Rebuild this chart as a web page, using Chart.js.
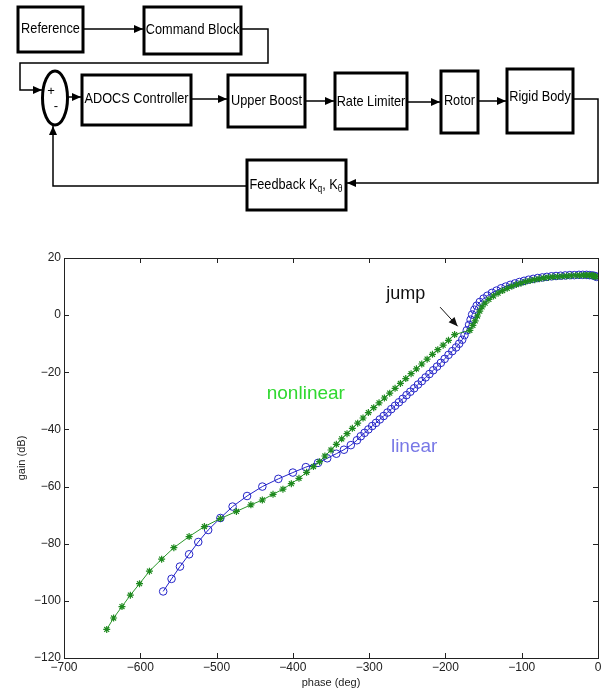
<!DOCTYPE html>
<html>
<head>
<meta charset="utf-8">
<script src="https://cdn.jsdelivr.net/npm/chart.js@4.4.0/dist/chart.umd.min.js"></script>
<style>
html, body { margin: 0; padding: 0; background: #fff; }
</style>
</head>
<body>
<canvas id="myChart" width="611" height="690"></canvas>
<script>
// nonlinear response (green, asterisks)
var nonlinearPhase = [-644, -635, -624, -613, -601, -588, -572, -556, -536, -516, -495, -474, -455, -440, -426, -413, -402, -392, -382, -373, -365, -358, -350, -343,
  -336, -329, -322, -315, -308, -301, -294, -287, -280, -273, -266, -259, -252, -245, -238, -231, -224, -217, -210, -203, -196, -188,
  -168, -164, -161, -158, -155, -152, -148, -143, -137, -131, -125, -119, -113, -107, -101, -95, -89, -83, -77, -71, -65, -59, -53, -47, -41, -35, -29, -24, -19, -15, -11, -8, -6, -4, -3];
var nonlinearGain = [-110, -106, -102, -98, -94, -89.6, -85.4, -81.4, -77.5, -74, -71.2, -68.7, -66.4, -64.7, -62.7, -60.9, -59, -57.1, -55, -53, -51.3, -49.3, -47.2, -45.2,
  -43.3, -41.5, -39.6, -37.8, -36.0, -34.1, -32.4, -30.7, -29.0, -27.3, -25.6, -23.9, -22.2, -20.5, -18.8, -17.1, -15.4, -13.7, -12.1, -10.5, -8.8, -6.8,
  -5.3, -3.6, -2.0, -0.3, 1.4, 2.9, 4.2, 5.5, 6.7, 7.7, 8.6, 9.4, 10.1, 10.7, 11.2, 11.7, 12.1, 12.4, 12.7, 13.0, 13.2, 13.4, 13.5, 13.6, 13.7, 13.8, 13.9, 13.9, 14.0, 14.0, 14.0, 13.9, 13.8, 13.6, 13.4];

// linear response (blue, circles)
var linearPhase = [-570, -559, -548, -536, -524, -511, -495, -479, -460, -440, -419, -400, -383, -367, -355, -343, -333, -324, -316,
  -311, -306, -301, -296, -291, -286, -281, -276, -271, -266, -261, -256, -251, -246, -241, -236, -231, -226, -221, -216, -211, -206, -201, -196, -191, -186, -182,
  -178, -175, -172, -169, -167, -165, -162, -159, -155, -150, -145, -139, -133, -127, -121, -115, -109, -103, -97, -91, -85, -79, -73, -67, -61, -55, -49, -43, -37, -31, -25, -20, -15, -11, -7, -4, -2];
var linearGain = [-96.7, -92.3, -88, -83.7, -79.4, -75.2, -71, -67, -63.3, -60, -57.3, -55.1, -53.2, -51.7, -50.1, -48.5, -47.1, -45.5, -43.8,
  -42.4, -41.2, -40.0, -38.8, -37.7, -36.5, -35.3, -34.1, -32.9, -31.7, -30.5, -29.3, -28.0, -26.8, -25.6, -24.3, -23.1, -21.8, -20.6, -19.3, -18.0, -16.7, -15.3, -13.9, -12.6, -11.3, -10.0,
  -8.6, -7.0, -5.3, -3.4, -1.6, 0.2, 1.9, 3.3, 4.6, 5.8, 6.8, 7.8, 8.6, 9.4, 10.0, 10.6, 11.1, 11.6, 12.0, 12.4, 12.7, 13.0, 13.2, 13.4, 13.6, 13.7, 13.8, 13.9, 14.0, 14.0, 14.1, 14.1, 14.1, 14.0, 13.9, 13.7, 13.4];

var phaseTicks = [-700, -600, -500, -400, -300, -200, -100, 0];
var gainTicks = [-120, -100, -80, -60, -40, -20, 0, 20];

function toPoints(xs, ys) {
  var out = [];
  for (var i = 0; i < xs.length; i++) out.push({ x: xs[i], y: ys[i] });
  return out;
}

function minusLabel(v) {
  return v < 0 ? '\u2212' + Math.abs(v) : String(v);
}

// --- block diagram helpers ---
function squeezedText(ctx, text, cx, cy) {
  ctx.save();
  ctx.translate(cx, cy);
  ctx.scale(0.85, 1);
  ctx.fillText(text, 0, 0);
  ctx.restore();
}

function block(ctx, x, y, w, h, text, ty) {
  ctx.lineWidth = 3;
  ctx.strokeRect(x, y, w, h);
  if (text) squeezedText(ctx, text, x + w / 2, ty || (y + h / 2));
}

function head(ctx, x, y, dir) {
  ctx.save();
  ctx.translate(x, y);
  ctx.rotate(dir);
  ctx.beginPath();
  ctx.moveTo(0, 0);
  ctx.lineTo(-9, -4);
  ctx.lineTo(-9, 4);
  ctx.closePath();
  ctx.fill();
  ctx.restore();
}

function wire(ctx, pts, arrowEnd) {
  ctx.lineWidth = 1.5;
  ctx.beginPath();
  ctx.moveTo(pts[0][0], pts[0][1]);
  for (var i = 1; i < pts.length; i++) ctx.lineTo(pts[i][0], pts[i][1]);
  ctx.stroke();
  if (arrowEnd) {
    var a = pts[pts.length - 2], b = pts[pts.length - 1];
    head(ctx, b[0], b[1], Math.atan2(b[1] - a[1], b[0] - a[0]));
  }
}

var diagramPlugin = {
  id: 'diagram',
  afterDraw: function(chart) {
    var ctx = chart.ctx;
    ctx.save();
    ctx.strokeStyle = '#000';
    ctx.fillStyle = '#000';
    ctx.font = '15px "Liberation Sans", Arial, sans-serif';
    ctx.textAlign = 'center';
    ctx.textBaseline = 'middle';

    block(ctx, 18, 7, 65, 45, 'Reference', 29);
    block(ctx, 144, 7, 97, 47, 'Command Block', 30);
    block(ctx, 82, 75, 109, 50, 'ADOCS Controller', 99);
    block(ctx, 228, 75, 77, 52, 'Upper Boost', 101);
    block(ctx, 335, 73, 72, 56, 'Rate Limiter', 102);
    block(ctx, 441, 71, 37, 62, 'Rotor', 101);
    block(ctx, 507, 69, 66, 64, 'Rigid Body', 97);
    block(ctx, 247, 160, 99, 50, null);

    // feedback label with subscripts
    var big = '15px "Liberation Sans", Arial, sans-serif';
    var small = '10px "Liberation Sans", Arial, sans-serif';
    ctx.save();
    ctx.translate(296, 185);
    ctx.scale(0.85, 1);
    ctx.textAlign = 'left';
    var parts = [['Feedback K', big, 0], ['q', small, 4], [', K', big, 0], ['\u03B8', small, 4]];
    var total = 0;
    parts.forEach(function(p) { ctx.font = p[1]; total += ctx.measureText(p[0]).width; });
    var px = -total / 2;
    parts.forEach(function(p) {
      ctx.font = p[1];
      ctx.fillText(p[0], px, p[2]);
      px += ctx.measureText(p[0]).width;
    });
    ctx.restore();

    // summing junction
    ctx.lineWidth = 3;
    ctx.beginPath();
    ctx.ellipse(55, 98, 12.5, 27, 0, 0, Math.PI * 2);
    ctx.stroke();
    ctx.font = '13px "Liberation Sans", Arial, sans-serif';
    ctx.fillText('+', 51, 91);
    ctx.fillText('-', 56, 106);

    wire(ctx, [[83, 29], [143, 29]], true);
    wire(ctx, [[241, 29], [268, 29], [268, 63], [20, 63], [20, 90], [42, 90]], true);
    wire(ctx, [[68, 97], [81, 97]], true);
    wire(ctx, [[191, 99], [227, 99]], true);
    wire(ctx, [[305, 101], [334, 101]], true);
    wire(ctx, [[407, 102], [440, 102]], true);
    wire(ctx, [[478, 101], [506, 101]], true);
    wire(ctx, [[573, 99], [598, 99], [598, 183], [347, 183]], true);
    wire(ctx, [[247, 186], [53, 186], [53, 126]], true);
    ctx.restore();
  }
};

// box, inward ticks and text annotations of the plot
var framePlugin = {
  id: 'frame',
  afterDatasetsDraw: function(chart) {
    var ctx = chart.ctx, a = chart.chartArea;
    var xs = chart.scales.x, ys = chart.scales.y;
    ctx.save();
    ctx.strokeStyle = '#222';
    ctx.lineWidth = 1;
    ctx.strokeRect(a.left + 0.5, a.top + 0.5, a.right - a.left, a.bottom - a.top);
    ctx.beginPath();
    phaseTicks.forEach(function(v) {
      var px = Math.round(xs.getPixelForValue(v)) + 0.5;
      ctx.moveTo(px, a.bottom); ctx.lineTo(px, a.bottom - 5);
      ctx.moveTo(px, a.top); ctx.lineTo(px, a.top + 5);
    });
    gainTicks.forEach(function(v) {
      var py = Math.round(ys.getPixelForValue(v)) + 0.5;
      ctx.moveTo(a.left, py); ctx.lineTo(a.left + 5, py);
      ctx.moveTo(a.right, py); ctx.lineTo(a.right - 5, py);
    });
    ctx.stroke();

    ctx.textAlign = 'center';
    ctx.textBaseline = 'middle';
    ctx.font = '19px "Liberation Sans", Arial, sans-serif';
    ctx.fillStyle = '#30d830';
    ctx.fillText('nonlinear', xs.getPixelForValue(-383), ys.getPixelForValue(-27.4));
    ctx.fillStyle = '#7878e6';
    ctx.fillText('linear', xs.getPixelForValue(-241), ys.getPixelForValue(-46));
    ctx.fillStyle = '#111';
    ctx.font = '18px "Liberation Sans", Arial, sans-serif';
    ctx.fillText('jump', xs.getPixelForValue(-252), ys.getPixelForValue(7.5));

    var x1 = xs.getPixelForValue(-207), y1 = ys.getPixelForValue(2.8);
    var x2 = xs.getPixelForValue(-184), y2 = ys.getPixelForValue(-3.9);
    ctx.strokeStyle = '#111';
    ctx.beginPath();
    ctx.moveTo(x1, y1); ctx.lineTo(x2, y2);
    ctx.stroke();
    ctx.fillStyle = '#111';
    head(ctx, x2, y2, Math.atan2(y2 - y1, x2 - x1));
    ctx.restore();
  }
};

var tickFont = { family: '"Liberation Sans", Arial, sans-serif', size: 12 };
var titleFont = { family: '"Liberation Sans", Arial, sans-serif', size: 11 };

var ctx = document.getElementById('myChart').getContext('2d');
var myChart = new Chart(ctx, {
  type: 'scatter',
  data: {
    datasets: [{
      label: 'nonlinear',
      data: toPoints(nonlinearPhase, nonlinearGain),
      showLine: true,
      borderColor: '#2a962a',
      borderWidth: 1,
      pointStyle: 'star',
      pointRadius: 3.5,
      pointBorderColor: '#1f8a1f',
      pointBorderWidth: 1.2,
      pointBackgroundColor: '#1f8a1f',
      order: 0
    }, {
      label: 'linear',
      data: toPoints(linearPhase, linearGain),
      showLine: true,
      borderColor: '#2424c8',
      borderWidth: 1,
      pointStyle: 'circle',
      pointRadius: 3.8,
      pointBorderColor: '#2424c8',
      pointBorderWidth: 1,
      pointBackgroundColor: 'rgba(0,0,0,0)',
      order: 1
    }]
  },
  options: {
    responsive: false,
    animation: false,
    layout: { padding: { left: 0, top: 258, right: 13, bottom: 0 } },
    plugins: {
      legend: { display: false },
      tooltip: { enabled: false }
    },
    scales: {
      x: {
        type: 'linear',
        min: -700, max: 0,
        afterBuildTicks: function(scale) { scale.ticks = phaseTicks.map(function(v) { return { value: v }; }); },
        afterFit: function(scale) { scale.height = 32; },
        grid: { display: false, drawTicks: false },
        border: { display: false },
        ticks: { color: '#222', font: tickFont, padding: 2, maxRotation: 0, callback: minusLabel },
        title: { display: true, text: 'phase (deg)', color: '#222', font: titleFont, padding: { top: 0, bottom: 0 } }
      },
      y: {
        type: 'linear',
        min: -120, max: 20,
        afterBuildTicks: function(scale) { scale.ticks = gainTicks.map(function(v) { return { value: v }; }); },
        afterFit: function(scale) { scale.width = 64; },
        grid: { display: false, drawTicks: false },
        border: { display: false },
        ticks: { color: '#222', font: tickFont, padding: 3, callback: minusLabel },
        title: { display: true, text: 'gain (dB)', color: '#222', font: titleFont, padding: { top: 15, bottom: 0 } }
      }
    }
  },
  plugins: [framePlugin, diagramPlugin]
});
</script>
</body>
</html>
